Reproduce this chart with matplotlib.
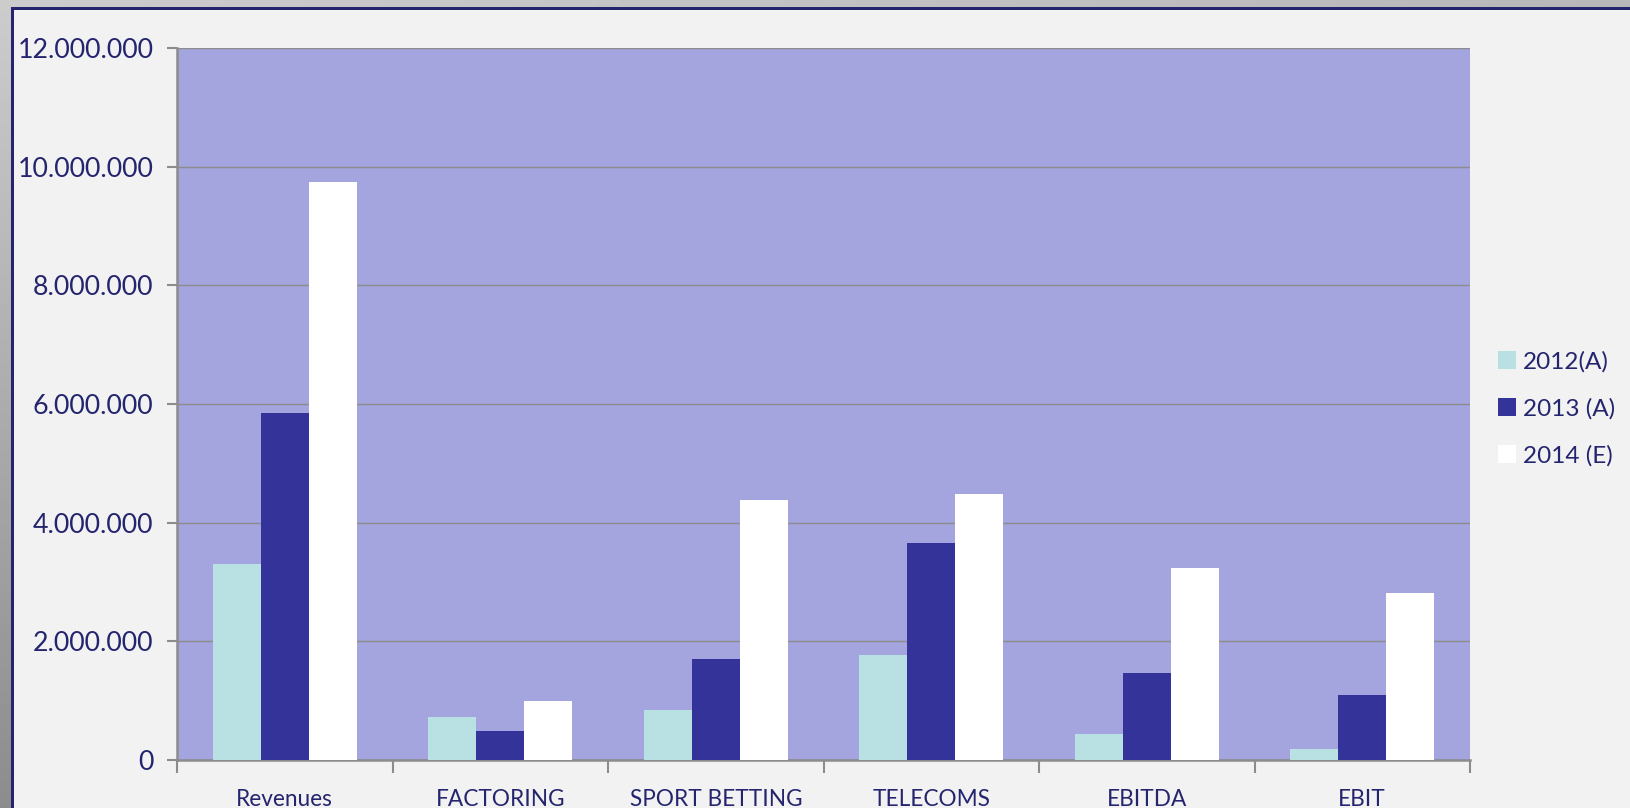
import numpy as np
import matplotlib
matplotlib.use("Agg")
import matplotlib.pyplot as plt
from matplotlib.patches import Rectangle
from matplotlib.ticker import FuncFormatter

categories = ["Revenues", "FACTORING", "SPORT BETTING", "TELECOMS", "EBITDA", "EBIT"]
series_names = ["2012(A)", "2013 (A)", "2014 (E)"]
v2012 = [3310000, 720000, 840000, 1770000, 440000, 190000]
v2013 = [5840000, 490000, 1700000, 3650000, 1470000, 1090000]
v2014 = [9740000, 1000000, 4390000, 4490000, 3230000, 2820000]
yticks = [0, 2000000, 4000000, 6000000, 8000000, 10000000, 12000000]

colors = ["#b9e0e2", "#333399", "#ffffff"]
navy = "#25256f"
plt.rcParams['font.family'] = ['Lato', 'DejaVu Sans']

W, H = 1630, 808
fig = plt.figure(figsize=(W / 100, H / 100), dpi=100)
fig.patch.set_facecolor("#f2f2f2")

# background frame (decoration)
bg = fig.add_axes([0, 0, 1, 1], zorder=-10)
bg.set_xlim(0, W)
bg.set_ylim(H, 0)
bg.axis("off")
grad = np.linspace(0, 1, 200)
gx, gy = np.meshgrid(grad, grad)
g = 0.80 - 0.08 * gx - 0.25 * gy
bg.imshow(g, cmap="gray", vmin=0, vmax=1, extent=[0, W, H, 0], aspect="auto", zorder=0)
bg.add_patch(Rectangle((11, 7), W, H, facecolor="#f2f2f2", edgecolor="none", zorder=1))
bg.add_patch(Rectangle((11, 7), W, 3, facecolor=navy, edgecolor="none", zorder=2))
bg.add_patch(Rectangle((11, 7), 3, H, facecolor=navy, edgecolor="none", zorder=2))

ax = fig.add_axes([177 / W, 1 - 760 / H, (1470 - 177) / W, (760 - 48) / H])
ax.set_facecolor("#a4a4df")

x = np.arange(len(categories))
w = 0.223
for k, (vals, name) in enumerate(zip([v2012, v2013, v2014], series_names)):
    ax.bar(x + (k - 1) * w, vals, width=w, color=colors[k], label=name, zorder=3, linewidth=0)

ax.set_xlim(-0.5, len(categories) - 0.5)
ax.set_ylim(0, 12000000)
ax.set_yticks(yticks)
ax.yaxis.set_major_formatter(FuncFormatter(lambda v, p: f"{int(v):,}".replace(",", ".")))
ax.grid(axis="y", color="#8c8c8c", linewidth=1.0, zorder=1)
ax.set_axisbelow(True)

ax.set_xticks(x)
ax.set_xticklabels(categories)
ax.set_xticks(np.arange(-0.5, len(categories)), minor=True)
ax.tick_params(axis="x", which="major", length=0, pad=21, labelsize=16.3, labelcolor=navy)
ax.tick_params(axis="x", which="minor", length=9, width=1.5, color="#8c8c8c", direction="out")
ax.tick_params(axis="y", length=7, width=1.5, color="#8c8c8c", pad=10, labelsize=19.3, labelcolor=navy)

for s in ["top", "right"]:
    ax.spines[s].set_visible(False)
for s in ["left", "bottom"]:
    ax.spines[s].set_color("#8c8c8c")
    ax.spines[s].set_linewidth(1.8)

leg = fig.legend(loc="upper left", bbox_to_anchor=(1488 / W, 1 - 341 / H), frameon=False,
                 fontsize=17.5, labelcolor=navy, handlelength=0.75, handleheight=0.75,
                 handletextpad=0.3, labelspacing=1.05, borderaxespad=0)

fig.savefig("out.png", dpi=100, facecolor=fig.get_facecolor())
